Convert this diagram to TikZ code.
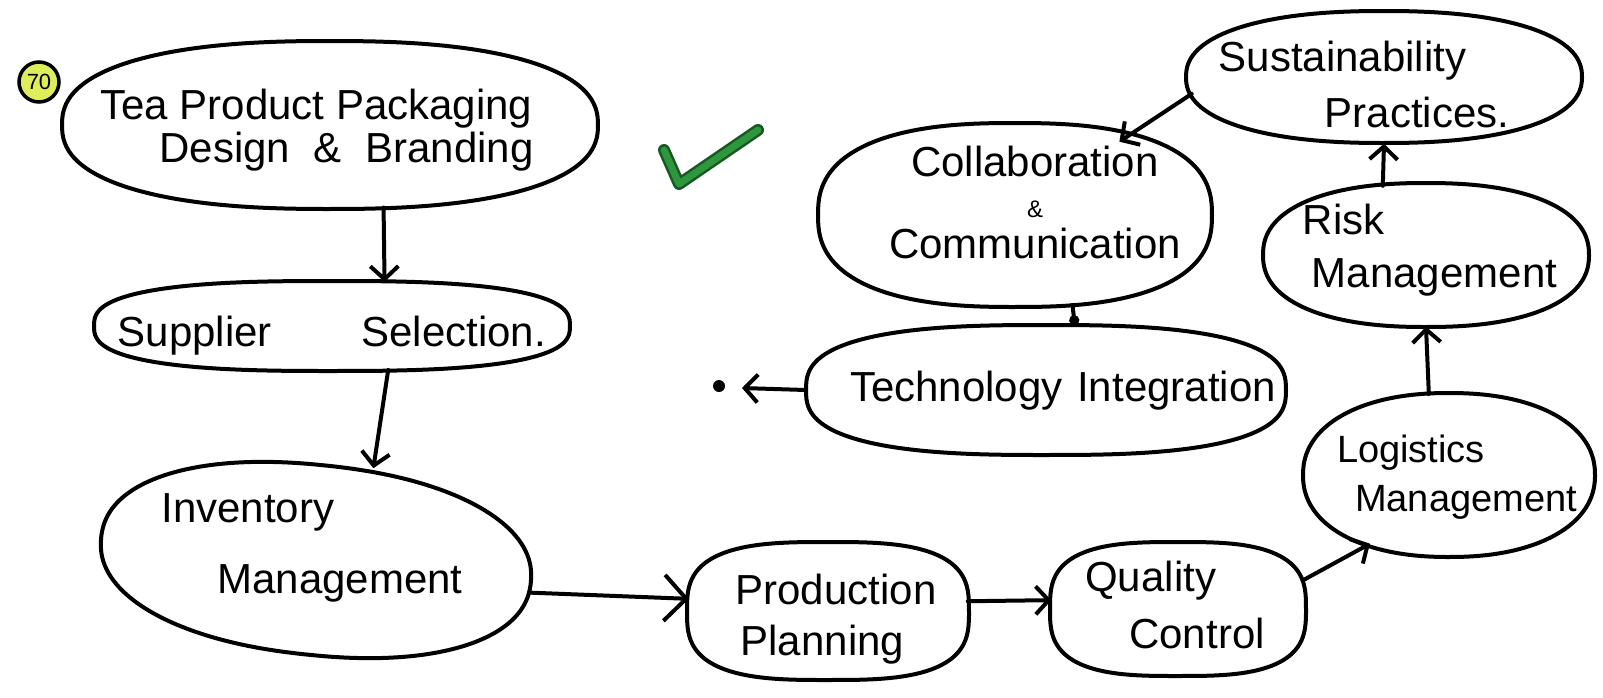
\documentclass[tikz,border=0pt]{standalone}
\usepackage{fontspec}
\setmainfont{Liberation Sans}
\usetikzlibrary{shapes.geometric, arrows.meta}
% text block of zero size: #1 = x shift, #2 = lift, #3 = column type, #4 = lines
\newcommand{\blobtext}[4]{\makebox[0pt]{\hspace*{#1}\hspace*{#1}\raisebox{#2}[0pt][0pt]{\begin{tabular}{@{}#3@{}}#4\end{tabular}}}}
% rounded blob outline round a named node: #1 node, #2 half width, #3 half height, #4 exponent, #5 rotation
\newcommand{\bloboutline}[5]{%
  \draw[outl, shift={(#1.center)}, rotate=#5] plot[domain=1:356, samples=72, smooth cycle]
    ({#2*cos(\x)*abs(cos(\x))^(2/#4-1)}, {#3*sin(\x)*abs(sin(\x))^(2/#4-1)});}
\begin{document}
\begin{tikzpicture}[x=1pt,y=-1pt,
  blob/.style={ellipse, inner sep=0pt, font=\fontsize{42}{46}\selectfont},
  outl/.style={line width=4pt, line join=round},
  flow/.style={line width=4pt, line cap=round,
    -{Straight Barb[length=13pt,width=28pt,line width=4pt]}},
  bigflow/.style={line width=4pt, line cap=round,
    -{Straight Barb[length=22pt,width=46pt,line width=4pt]}},
  plainlink/.style={line width=4pt, -{Circle[length=10pt]}}]
\useasboundingbox (0,0) rectangle (1603,697);
\fill[white] (0,0) rectangle (1603,697);

% nodes
\node[blob, minimum width=536pt, minimum height=168pt] (tea) at (330,125)
  {\blobtext{-13pt}{-13pt}{l}{Tea Product Packaging\\[-3pt]\hspace*{59pt}Design\hspace{12pt} \&\hspace{12pt} Branding}};
\node[blob, minimum width=476pt, minimum height=90pt] (sup) at (332,326)
  {\blobtext{0pt}{-18pt}{l}{Supplier\hspace{78pt} Selection.}};
\node[blob, minimum width=432pt, minimum height=190pt] (inv) at (316,560)
  {\blobtext{-4pt}{5pt}{l}{Inventory\\[25pt]\hspace*{56pt}Management}};
\node[blob, minimum width=282pt, minimum height=138pt] (prod) at (828,611)
  {\blobtext{8pt}{-16pt}{l}{Production\\[5pt]\hspace*{5pt}Planning}};
\node[blob, minimum width=255pt, minimum height=135pt] (qual) at (1178,609)
  {\blobtext{-3pt}{-8pt}{l}{Quality\\[11pt]\hspace*{44pt}Control}};
\node[blob, minimum width=292pt, minimum height=163pt, font=\fontsize{38}{46}\selectfont] (log) at (1449,475)
  {\blobtext{8pt}{-9pt}{l}{Logistics\\[3pt]\hspace*{18pt}Management}};
\node[blob, minimum width=327pt, minimum height=143pt] (risk) at (1426,255)
  {\blobtext{4pt}{-3pt}{l}{Risk\\[7pt]\hspace*{9pt}Management}};
\node[blob, minimum width=397pt, minimum height=133pt] (sust) at (1384,77)
  {\blobtext{-20pt}{-20pt}{l}{Sustainability\\[10pt]\hspace*{106pt}Practices.}};
\node[blob, minimum width=393pt, minimum height=184pt] (coll) at (1015,215)
  {\blobtext{20pt}{0pt}{c}{Collaboration\\[-5pt]{\fontsize{24}{28}\selectfont\&}\\[-5pt]Communication}};
\node[blob, minimum width=480pt, minimum height=130pt] (tech) at (1046,390)
  {\blobtext{17pt}{-9pt}{l}{Technology\hspace{3pt} Integration}};
\node[circle, fill, inner sep=0pt, minimum size=12pt] (dot) at (719,386) {};
\coordinate (tipend) at (742,388);

% outlines
\bloboutline{tea}{268}{84}{2.4}{0}
\bloboutline{sup}{238}{45}{2.7}{0}
\bloboutline{inv}{216}{95}{2.2}{-6}
\bloboutline{prod}{141}{69}{3}{0}
\bloboutline{qual}{128}{67}{3}{0}
\bloboutline{log}{146}{82}{2.2}{0}
\bloboutline{risk}{163}{72}{2.3}{0}
\bloboutline{sust}{198}{66}{2.3}{0}
\bloboutline{coll}{197}{92}{2.5}{0}
\bloboutline{tech}{240}{65}{2.7}{0}

\node[circle, draw, line width=3.5pt, fill={rgb,255:red,222;green,238;blue,90},
  minimum size=40pt, inner sep=0pt, font=\fontsize{22}{24}\selectfont] (num) at (39,82) {70};

% check mark
\draw[line width=12pt, line cap=round, line join=round,
  draw={rgb,255:red,22;green,90;blue,34}] (664,150) -- (679,184) -- (758,130);
\draw[line width=7pt, line cap=round, line join=round,
  draw={rgb,255:red,46;green,150;blue,60}] (664,150) -- (679,184) -- (758,130);

% connectors
\draw[flow] (tea.-57) -- (sup.40);
\draw[flow] (sup.-38) -- (inv.58);
\draw[bigflow, shorten <=10pt] (inv.-9) -- (prod.175);
\draw[flow] (prod.4) -- (qual.176);
\draw[flow, shorten <=7pt] (qual.12) -- (log.221);
\draw[flow] (log.104) -- (risk.south);
\draw[flow] (risk.122) -- (sust.south);
\draw[flow, shorten >=-6pt] (sust.185) -- (coll.35);
\draw[plainlink] (coll.-57) -- (tech.66);
\draw[flow] (tech.180) -- (tipend);
\end{tikzpicture}
\end{document}
